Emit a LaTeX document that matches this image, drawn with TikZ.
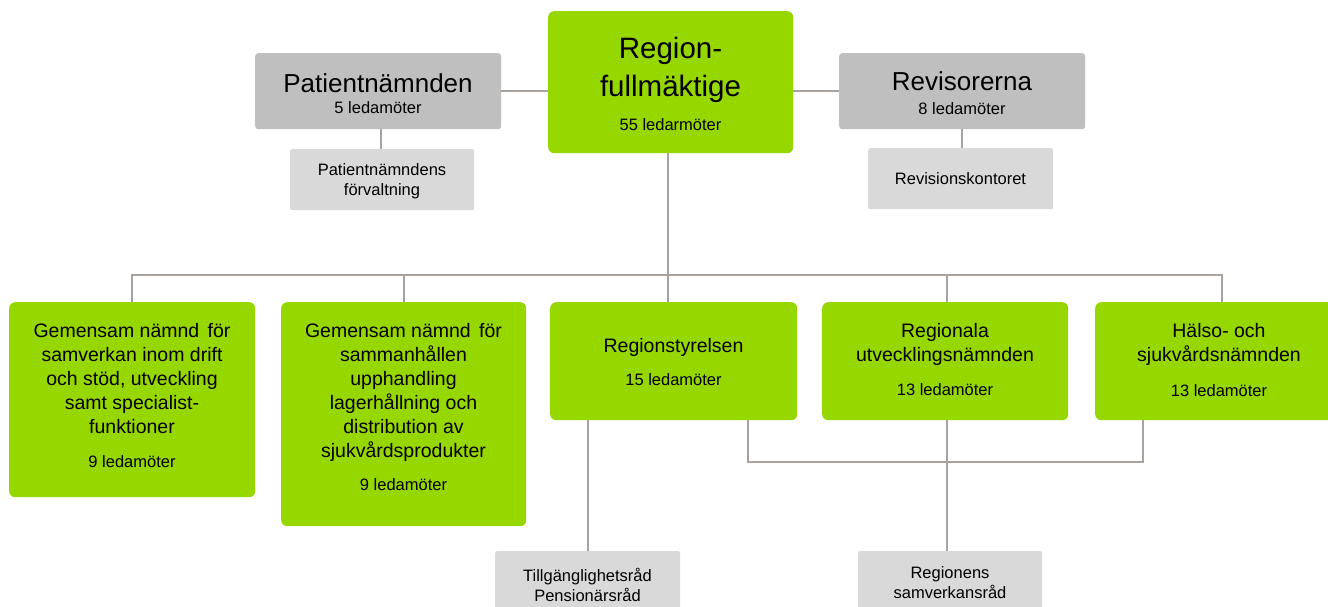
\documentclass[tikz,border=0pt]{standalone}
\usepackage{fontspec}
\setmainfont{Liberation Sans}
\definecolor{rgreen}{RGB}{151,215,0}
\definecolor{dgray}{RGB}{191,191,191}
\definecolor{lgray}{RGB}{217,217,217}
\definecolor{lnc}{RGB}{170,162,156}
\tikzset{
  gbox/.style={fill=rgreen, rounded corners=6pt, inner sep=0pt, anchor=north west},
  dbox/.style={fill=dgray, rounded corners=3pt, inner sep=0pt, anchor=north west},
  lbox/.style={fill=lgray, rounded corners=2pt, inner sep=0pt, anchor=north west},
  conn/.style={draw=lnc, line width=2pt},
  bigtitle/.style={inner sep=0pt, align=center, font={\fontsize{29.5}{38}\selectfont}},
  graytitle/.style={inner sep=0pt, align=center, font={\fontsize{26}{30}\selectfont}},
  boxtitle/.style={inner sep=0pt, align=center, font={\fontsize{19.5}{24}\selectfont}},
  cnt/.style={inner sep=0pt, align=center, font={\fontsize{16.5}{20}\selectfont}},
  small/.style={inner sep=0pt, align=center, font={\fontsize{16.5}{20}\selectfont}},
}
\begin{document}
\begin{tikzpicture}[x=1pt, y=-1pt]
\useasboundingbox (0,0) rectangle (1328,607);
\clip (0,0) rectangle (1328,607);
\fill[white] (0,0) rectangle (1328,607);

% boxes
\node[gbox, minimum width=245pt, minimum height=142pt] (rf) at (548,11) {};
\node[dbox, minimum width=246pt, minimum height=76pt] (pn) at (255,53) {};
\node[dbox, minimum width=246pt, minimum height=76pt] (rev) at (839,53) {};
\node[lbox, minimum width=184pt, minimum height=61pt] (pnf) at (290,149) {};
\node[lbox, minimum width=185pt, minimum height=61pt] (rk) at (868,148) {};
\node[gbox, minimum width=246pt, minimum height=195pt] (b1) at (9,302) {};
\node[gbox, minimum width=245pt, minimum height=224pt] (b2) at (281,302) {};
\node[gbox, minimum width=247pt, minimum height=118pt] (rs) at (550,302) {};
\node[gbox, minimum width=246pt, minimum height=118pt] (ru) at (822,302) {};
\node[gbox, minimum width=246pt, minimum height=118pt] (hs) at (1095,302) {};
\node[lbox, minimum width=185pt, minimum height=70pt] (tp) at (495,551) {};
\node[lbox, minimum width=184pt, minimum height=70pt] (rsr) at (858,551) {};

% helper coordinates
\coordinate (busL) at (132,275);
\coordinate (busR) at (1222.3,275);
\coordinate (mid) at (667.5,275);
\coordinate (ruv) at (947.3,461.7);
\coordinate (brL) at (748.3,461.7);
\coordinate (brR) at (1142.7,461.7);
\coordinate (pnv) at (381,129);
\coordinate (revv) at (961.5,129);
\coordinate (b2v) at (403.7,275);

% connectors
\draw[conn] (pn.east) -- (pn.east -| rf.west);
\draw[conn] (rev.west) -- (rev.west -| rf.east);
\draw[conn] (pnv |- pn.south) -- (pnv |- pnf.north);
\draw[conn] (revv |- rev.south) -- (revv |- rk.north);
\draw[conn] (mid |- rf.south) -- (mid |- rs.north);
\draw[conn] (busL |- b1.north) -- (busL) -- (busR) -- (busR |- hs.north);
\draw[conn] (b2v) -- (b2v |- b2.north);
\draw[conn] (ruv |- busL) -- (ruv |- ru.north);
\draw[conn] (brL |- rs.south) -- (brL) -- (brR) -- (brR |- hs.south);
\draw[conn] (ruv |- ru.south) -- (ruv |- rsr.north);
\draw[conn] (tp.north) -- (tp.north |- rs.south);

% texts
\node[bigtitle] (rf-t) at (670.5,70) {Region-\\fullmäktige};
\node[cnt] (rf-c) at (670.5,125) {55 ledarmöter};
\node[graytitle] (pn-t) at (378,83) {Patientnämnden};
\node[cnt] (pn-c) at (378,108) {5 ledamöter};
\node[graytitle] (rev-t) at (962,81.5) {Revisorerna};
\node[cnt] (rev-c) at (962,108.5) {8 ledamöter};
\node[small] (pnf-t) at (382,181) {Patientnämndens\\förvaltning};
\node[small] (rk-t) at (960.5,178.5) {Revisionskontoret};
\node[boxtitle] (b1-t) at (132,378.5) {Gemensam nämnd\hspace{3pt} för\\samverkan inom drift\\och stöd, utveckling\\samt specialist-\\funktioner};
\node[cnt] (b1-c) at (132,462) {9 ledamöter};
\node[boxtitle] (b2-t) at (403.5,392.5) {Gemensam nämnd\hspace{3pt} för\\sammanhållen\\upphandling\\lagerhållning och\\distribution av\\sjukvårdsprodukter};
\node[cnt] (b2-c) at (403.5,485) {9 ledamöter};
\node[boxtitle] (rs-t) at (673.5,347) {Regionstyrelsen};
\node[cnt] (rs-c) at (673.5,380) {15 ledamöter};
\node[boxtitle] (ru-t) at (945,344.5) {Regionala\\utvecklingsnämnden};
\node[cnt] (ru-c) at (945,390) {13 ledamöter};
\node[boxtitle] (hs-t) at (1219,344.5) {Hälso- och\\sjukvårdsnämnden};
\node[cnt] (hs-c) at (1219,391) {13 ledamöter};
\node[small] (tp-t) at (587.5,584.5) {Tillgänglighetsråd\\Pensionärsråd};
\node[small] (rsr-t) at (950,582.5) {Regionens\\samverkansråd};
\end{tikzpicture}
\end{document}
